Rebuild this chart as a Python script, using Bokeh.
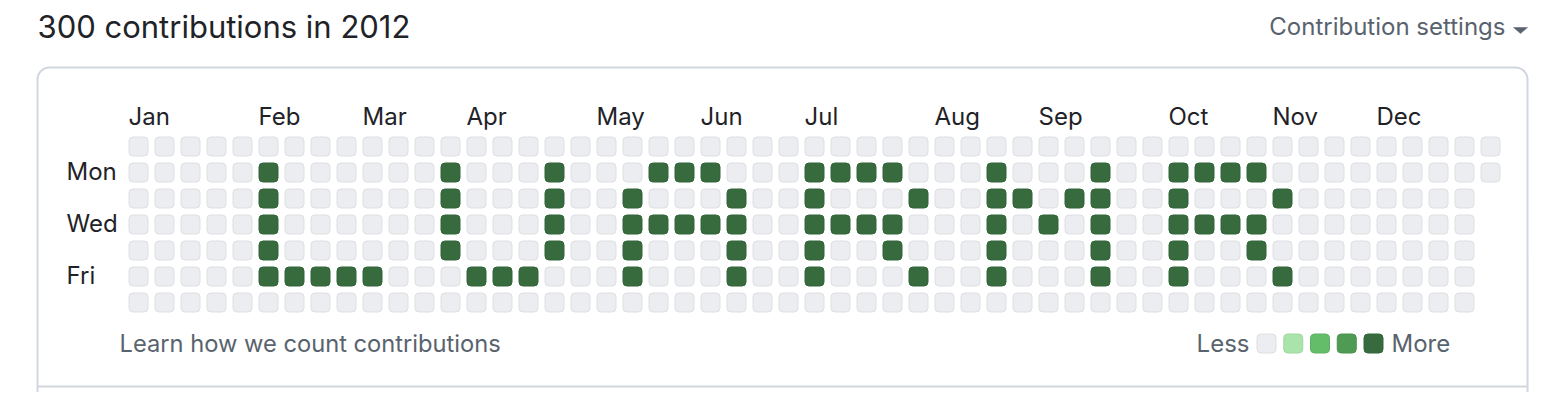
import datetime as dt
from bokeh.plotting import figure
from bokeh.models import Range1d
from bokeh.core.properties import value
from bokeh.embed import file_html
from bokeh.resources import INLINE

# ---------------- data ----------------
year = 2012
title_text = "300 contributions in 2012"
settings_text = "Contribution settings"
footer_text = "Learn how we count contributions"
month_names = ["Jan", "Feb", "Mar", "Apr", "May", "Jun",
               "Jul", "Aug", "Sep", "Oct", "Nov", "Dec"]
day_label_text = ["Mon", "Wed", "Fri"]
day_label_rows = [1, 3, 5]
legend_less = "Less"
legend_more = "More"
level_colors = ["#ebedf0", "#aae4aa", "#64bd69", "#4f9b54", "#376b3d"]
level_borders = ["#dedfe3", "#9fd8a0", "#5db262", "#4a914f", "#33643a"]

# week column (0 = week of Jan 1) and weekday row (0 = Sunday) of active days
filled_week = [5, 5, 5, 5, 5, 6, 7, 8, 9,
               12, 12, 12, 12, 13, 14, 15, 16, 16, 16, 16,
               19, 19, 19, 19, 20, 21, 22, 20, 21, 22, 23, 23, 23, 23,
               26, 26, 26, 26, 26, 27, 28, 29, 30, 27, 28, 29, 29, 30,
               33, 33, 33, 33, 33, 34, 35, 36, 37, 37, 37, 37, 37,
               40, 40, 40, 40, 40, 41, 42, 43, 44, 41, 42, 43, 43, 44]
filled_day = [1, 2, 3, 4, 5, 5, 5, 5, 5,
              1, 2, 3, 4, 5, 5, 5, 1, 2, 3, 4,
              2, 3, 4, 5, 1, 1, 1, 3, 3, 3, 2, 3, 4, 5,
              1, 2, 3, 4, 5, 1, 1, 1, 2, 3, 3, 3, 4, 5,
              1, 2, 3, 4, 5, 2, 3, 2, 1, 2, 3, 4, 5,
              1, 2, 3, 4, 5, 1, 1, 1, 2, 3, 3, 3, 4, 5]
filled_count = [4, 4, 4, 4, 4, 4, 4, 4, 4,
                4, 4, 4, 4, 4, 4, 4, 4, 4, 4, 4,
                4, 4, 4, 4, 4, 4, 4, 4, 4, 4, 4, 4, 4, 4,
                4, 4, 4, 4, 4, 4, 4, 4, 4, 4, 4, 4, 4, 4,
                4, 4, 4, 4, 4, 4, 4, 4, 4, 4, 4, 4, 4,
                4, 4, 4, 4, 4, 4, 4, 4, 4, 4, 4, 4, 4, 4]

# ---------------- layout helpers ----------------
FIG_W, FIG_H = 1550, 392
CELL = 26.0          # px per week / weekday
COL0_PX, ROW0_PX = 138.0, 146.0
TXT_SHIFT = 9.0      # baseline correction for rendered text


def dx(px):
    return (px - COL0_PX) / CELL


def dy(py):
    return (py - ROW0_PX) / CELL


def ty(py, size=24):
    return dy(py - TXT_SHIFT * size / 24.0)


FONT = value("Inter")
DARK = "#1f2328"
MUTED = "#59636e"
BORDER = "#d0d7de"

p = figure(width=FIG_W, height=FIG_H, output_backend="svg", toolbar_location=None,
           x_range=Range1d(dx(0), dx(FIG_W)),
           y_range=Range1d(dy(FIG_H), dy(0)),
           min_border=0, outline_line_color=None, background_fill_color="white",
           border_fill_color="white")
p.axis.visible = False
p.grid.visible = False

# ---------------- cells ----------------
start = dt.date(year, 1, 1)
offset = (start.weekday() + 1) % 7
n_days = (dt.date(year + 1, 1, 1) - start).days
counts = {}
for w, d, c in zip(filled_week, filled_day, filled_count):
    counts[(w, d)] = c
max_c = max(filled_count)

xs, ys, fills, lines = [], [], [], []
for i in range(n_days):
    w = (i + offset) // 7
    d = (i + offset) % 7
    c = counts.get((w, d), 0)
    lvl = 0 if c == 0 else min(4, max(1, -(-4 * c // max_c)))
    xs.append(w)
    ys.append(d)
    fills.append(level_colors[lvl])
    lines.append(level_borders[lvl])

p.rect(x=xs, y=ys, width=19 / CELL, height=19 / CELL, fill_color=fills,
       line_color=lines, line_width=1, border_radius=4)

# ---------------- frame ----------------
p.quad(left=[dx(37)], right=[dx(1527)], top=[dy(67)], bottom=[dy(520)],
       fill_color=None, line_color=BORDER, line_width=2, border_radius=12)
p.segment(x0=[dx(37)], x1=[dx(1527)], y0=[dy(386)], y1=[dy(386)],
          line_color=BORDER, line_width=2)

# ---------------- texts ----------------
p.text(x=[dx(37)], y=[ty(38, 31)], text=[title_text], text_font=FONT,
       text_font_size="31px", text_color=DARK, text_baseline="alphabetic")
p.text(x=[dx(1505)], y=[ty(35)], text=[settings_text], text_font=FONT,
       text_font_size="24px", text_color=MUTED, text_baseline="alphabetic",
       text_align="right")
p.patch(x=[dx(1513), dx(1527), dx(1520)], y=[dy(27), dy(27), dy(33)],
        fill_color=MUTED, line_color=MUTED, line_width=0.5)

month_x, month_y = [], []
for m in range(12):
    first = dt.date(year, m + 1, 1)
    i = (first - start).days
    wk = (i + offset + 6) // 7
    month_x.append(wk - 10 / CELL)
    month_y.append(ty(125))
p.text(x=month_x, y=month_y, text=month_names, text_font=FONT,
       text_font_size="24px", text_color=DARK, text_baseline="alphabetic")

p.text(x=[dx(66)] * 3, y=[r + (8 - TXT_SHIFT) / CELL for r in day_label_rows],
       text=day_label_text, text_font=FONT, text_font_size="24px", text_color=DARK,
       text_baseline="alphabetic")

p.text(x=[dx(119)], y=[ty(352)], text=[footer_text], text_font=FONT,
       text_font_size="23.7px", text_color=MUTED, text_baseline="alphabetic")

# legend
lg_x = [dx(1266 + 26.75 * k) for k in range(len(level_colors))]
p.rect(x=lg_x, y=[dy(343)] * len(lg_x), width=19 / CELL, height=19 / CELL,
       fill_color=level_colors, line_color=level_borders, line_width=1, border_radius=4)
p.text(x=[dx(1249)], y=[ty(352)], text=[legend_less], text_font=FONT,
       text_font_size="24px", text_color=MUTED, text_baseline="alphabetic",
       text_align="right")
p.text(x=[dx(1391)], y=[ty(352)], text=[legend_more], text_font=FONT,
       text_font_size="24px", text_color=MUTED, text_baseline="alphabetic")

open("out.html", "w").write(file_html(p, INLINE))
